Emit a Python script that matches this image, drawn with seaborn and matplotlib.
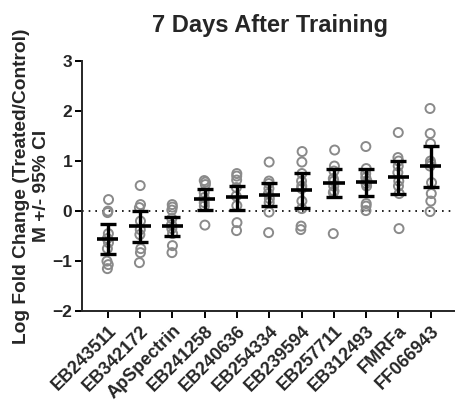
import matplotlib
matplotlib.use("Agg")
import matplotlib.pyplot as plt
import seaborn as sns
import pandas as pd
import numpy as np

categories = ["EB243511", "EB342172", "ApSpectrin", "EB241258", "EB240636",
              "EB254334", "EB239594", "EB257711", "EB312493", "FMRFa", "FF066943"]

EB243511 = [0.23, 0.0, -0.03, -0.45, -0.55, -0.63, -0.75, -1.0, -1.07, -1.15]
EB342172 = [0.51, 0.13, 0.07, -0.2, -0.37, -0.47, -0.75, -0.83, -1.03]
ApSpectrin = [0.13, 0.08, 0.02, -0.15, -0.27, -0.35, -0.45, -0.69, -0.83]
EB241258 = [0.61, 0.58, 0.53, 0.37, 0.27, 0.17, 0.1, -0.28]
EB240636 = [0.75, 0.7, 0.62, 0.47, 0.3, 0.11, -0.23, -0.39]
EB254334 = [0.98, 0.6, 0.55, 0.45, 0.35, 0.25, 0.17, -0.02, -0.43]
EB239594 = [1.19, 0.98, 0.75, 0.6, 0.5, 0.45, 0.2, 0.05, -0.3, -0.37]
EB257711 = [1.22, 0.9, 0.8, 0.65, 0.6, 0.5, 0.4, 0.37, -0.45]
EB312493 = [1.29, 0.85, 0.75, 0.67, 0.6, 0.55, 0.5, 0.15, 0.1, 0.01]
FMRFa = [1.57, 1.07, 1.0, 0.9, 0.77, 0.6, 0.5, 0.35, -0.35]
FF066943 = [2.05, 1.55, 1.35, 1.0, 0.95, 0.9, 0.57, 0.35, 0.2, -0.01]

means = [-0.55, -0.30, -0.30, 0.25, 0.28, 0.33, 0.42, 0.57, 0.58, 0.69, 0.90]
ci_low = [-0.85, -0.62, -0.50, 0.03, 0.02, 0.10, 0.07, 0.28, 0.31, 0.35, 0.49]
ci_high = [-0.25, 0.01, -0.12, 0.45, 0.51, 0.57, 0.77, 0.85, 0.85, 1.00, 1.30]

groups = [EB243511, EB342172, ApSpectrin, EB241258, EB240636, EB254334,
          EB239594, EB257711, EB312493, FMRFa, FF066943]

rows = []
for cat, vals in zip(categories, groups):
    for v in vals:
        rows.append({"group": cat, "value": v})
df = pd.DataFrame(rows)

sns.set_style("ticks")
plt.rcParams["font.family"] = ["Liberation Sans", "DejaVu Sans"]
plt.rcParams["font.weight"] = "bold"

fig = plt.figure(figsize=(4.55, 4.01), dpi=100)
ax = fig.add_axes([0.18, 0.224, 0.82, 0.624])

sns.stripplot(data=df, x="group", y="value", order=categories, jitter=0.025,
              ax=ax, marker="o", size=6.5, color="#8a8a8a", zorder=2)
for coll in ax.collections:
    coll.set_facecolor("none")
    coll.set_edgecolor("#8a8a8a")
    coll.set_linewidth(1.4)

x = np.arange(len(categories))
m = np.array(means)
lo = np.array(ci_low)
hi = np.array(ci_high)
ax.errorbar(x, m, yerr=[m - lo, hi - m], fmt="none", ecolor="black",
            elinewidth=2.4, capsize=5.5, capthick=2.4, zorder=4)
ax.hlines(m, x - 0.33, x + 0.33, color="black", linewidth=2.6, zorder=5)

ax.axhline(0, color="black", linestyle=(0, (1, 3)), linewidth=1.2, zorder=1)

ax.set_ylim(-2, 3)
ax.set_xlim(-0.8, 10.75)
ax.set_yticks([-2, -1, 0, 1, 2, 3])
ax.set_xlabel("")
ax.set_ylabel("Log Fold Change (Treated/Control)\nM +/- 95% CI",
              fontsize=13.8, fontweight="bold", labelpad=2)
ax.set_xticks(x)
ax.set_xticklabels(categories, rotation=45, ha="right", rotation_mode="anchor",
                   fontsize=13, fontweight="bold")
for lab in ax.get_yticklabels():
    lab.set_fontsize(12.5)
    lab.set_fontweight("bold")

sns.despine(ax=ax)
ax.spines["left"].set_linewidth(1.4)
ax.spines["bottom"].set_linewidth(1.4)
ax.tick_params(axis="both", width=1.4, length=5, color="black")
ax.tick_params(axis="x", pad=3)
ax.tick_params(axis="y", pad=2)

fig.suptitle("7 Days After Training", fontsize=17, fontweight="bold",
             x=0.593, y=0.965)

fig.savefig("out.png", dpi=100)
